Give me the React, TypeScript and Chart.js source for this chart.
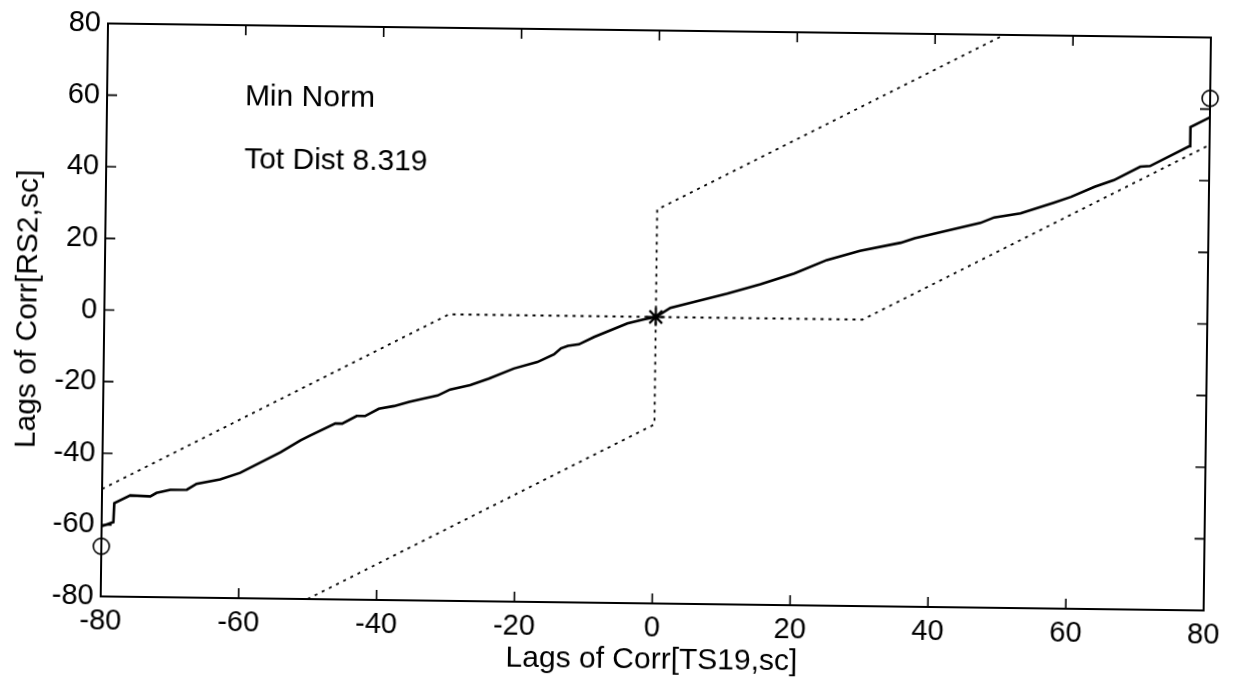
import React, { useEffect, useRef } from "react";
import { Chart, registerables } from "chart.js";

Chart.register(...registerables);

// ---- data ----
const pathX = [
  -80, -78.3, -78.2, -75.9, -73, -72.1, -70.1, -67.7, -66.3, -62.9, -60, -54.2, -51.3, -49.9,
  -46.3, -45.3, -43.2, -42, -40, -37.8, -35.6, -33.5, -31.5, -29.7, -26.8, -24.1, -20.5, -17.1,
  -14.7, -13.7, -12.7, -11.1, -8.9, -4.1, -1.7, 0, 2.1, 5.5, 10.3, 15.1, 20, 24.7, 29.5, 35.4,
  37.4, 46.9, 48.9, 52.7, 57.5, 60, 63.4, 66.2, 70, 71.4, 77.1, 77.2, 80,
];
const pathY = [
  -60.4, -59.2, -53.9, -51.7, -51.9, -50.9, -50.0, -49.9, -48.2, -46.9, -45.0, -39.1, -35.7, -34.3,
  -30.9, -30.9, -28.7, -28.7, -26.6, -25.8, -24.6, -23.6, -22.7, -21.0, -19.7, -17.8, -14.9, -13.0,
  -10.8, -9.1, -8.4, -7.9, -5.8, -1.9, -0.7, 0, 2.6, 4.35, 6.8, 9.5, 12.65, 16.5, 19.2, 21.6,
  22.9, 27.4, 29.0, 30.2, 33.3, 35.0, 37.9, 39.85, 43.7, 43.9, 49.6, 54.9, 57.7,
];
const boundAX = [-80, -30, 0, 30, 80];
const boundAY = [-50, 0, 0, 0, 50];
const boundBX = [-50, 0, 0, 0, 50];
const boundBY = [-80, -30, 0, 30, 80];
const originX = [0];
const originY = [0];
const endX = [-80, 80];
const endY = [-66, 63];
const tickValues = [-80, -60, -40, -20, 0, 20, 40, 60, 80];
const xTitle = "Lags of Corr[TS19,sc]";
const yTitle = "Lags of Corr[RS2,sc]";
const notes = ["Min Norm", "Tot Dist 8.319"];
const noteX = [-60, -60];
const noteY = [60, 42.4];

const FONT = "'Liberation Sans', Arial, Helvetica, sans-serif";

const pts = (xs: number[], ys: number[]) => xs.map((x, i) => ({ x, y: ys[i] }));

const framePlugin = {
  id: "matlabFrame",
  afterDatasetsDraw(chart: any) {
    const { ctx, chartArea, scales } = chart;
    const { left, right, top, bottom } = chartArea;
    ctx.save();
    ctx.strokeStyle = "#000";
    ctx.lineWidth = 2;
    ctx.strokeRect(left, top, right - left, bottom - top);
    const tl = 10;
    ctx.lineWidth = 1.6;
    ctx.beginPath();
    for (const v of tickValues) {
      const px = scales.x.getPixelForValue(v);
      ctx.moveTo(px, bottom);
      ctx.lineTo(px, bottom - tl);
      ctx.moveTo(px, top);
      ctx.lineTo(px, top + tl);
      const py = scales.y.getPixelForValue(v);
      ctx.moveTo(left, py);
      ctx.lineTo(left + tl, py);
      ctx.moveTo(right, py);
      ctx.lineTo(right - tl, py);
    }
    ctx.stroke();
    ctx.fillStyle = "#000";
    ctx.font = `30px ${FONT}`;
    ctx.textAlign = "left";
    ctx.textBaseline = "middle";
    notes.forEach((t, i) => {
      ctx.fillText(t, scales.x.getPixelForValue(noteX[i]), scales.y.getPixelForValue(noteY[i]));
    });
    ctx.restore();
  },
};

export default function App() {
  const ref = useRef<HTMLCanvasElement | null>(null);
  useEffect(() => {
    if (!ref.current) return;
    const axisCommon = (title: string) => ({
      type: "linear" as const,
      min: -80,
      max: 80,
      afterBuildTicks: (s: any) => {
        s.ticks = tickValues.map((v) => ({ value: v }));
      },
      grid: { display: false, drawTicks: false },
      border: { display: false },
      ticks: {
        color: "#000",
        font: { family: FONT, size: 29 },
        maxRotation: 0,
        autoSkip: false,
        padding: 8,
      },
      title: {
        display: true,
        text: title,
        color: "#000",
        font: { family: FONT, size: 30 },
        padding: { top: 0, bottom: 0 },
      },
    });
    const xAxis: any = axisCommon(xTitle);
    xAxis.title.padding = { top: 0, bottom: 5 };
    xAxis.afterFit = (s: any) => {
      s.height = 80;
    };
    const yAxis: any = axisCommon(yTitle);
    yAxis.ticks.padding = 7;
    yAxis.title.padding = { top: 10, bottom: 0 };
    yAxis.afterFit = (s: any) => {
      s.width = 104;
    };

    const chart = new Chart(ref.current, {
      type: "scatter",
      data: {
        datasets: [
          {
            data: pts(pathX, pathY),
            showLine: true,
            borderColor: "#000",
            borderWidth: 2.6,
            pointRadius: 0,
            fill: false,
          },
          {
            data: pts(boundAX, boundAY),
            showLine: true,
            borderColor: "#000",
            borderWidth: 1.8,
            borderDash: [3, 5],
            pointRadius: 0,
            fill: false,
          },
          {
            data: pts(boundBX, boundBY),
            showLine: true,
            borderColor: "#000",
            borderWidth: 1.8,
            borderDash: [3, 5],
            pointRadius: 0,
            fill: false,
          },
          {
            data: pts(originX, originY),
            showLine: false,
            pointStyle: "star",
            pointRadius: 9,
            borderWidth: 2.2,
            borderColor: "#000",
            backgroundColor: "#000",
          },
          {
            data: pts(endX, endY),
            showLine: false,
            pointStyle: "circle",
            pointRadius: 8,
            borderWidth: 1.6,
            borderColor: "#000",
            backgroundColor: "rgba(0,0,0,0)",
            clip: false,
          } as any,
        ],
      },
      options: {
        animation: false,
        responsive: true,
        maintainAspectRatio: false,
        layout: { padding: { left: 0, right: 29, top: 30, bottom: 0 } },
        plugins: { legend: { display: false }, tooltip: { enabled: false } },
        scales: { x: xAxis, y: yAxis },
      },
      plugins: [framePlugin],
    });
    return () => chart.destroy();
  }, []);

  return (
    <div
      style={{
        position: "fixed",
        left: 0,
        top: 0,
        width: 1236,
        height: 683,
        background: "#fff",
        transform: "rotate(0.73deg)",
        transformOrigin: "618px 341.5px",
      }}
    >
      <canvas ref={ref} />
    </div>
  );
}
